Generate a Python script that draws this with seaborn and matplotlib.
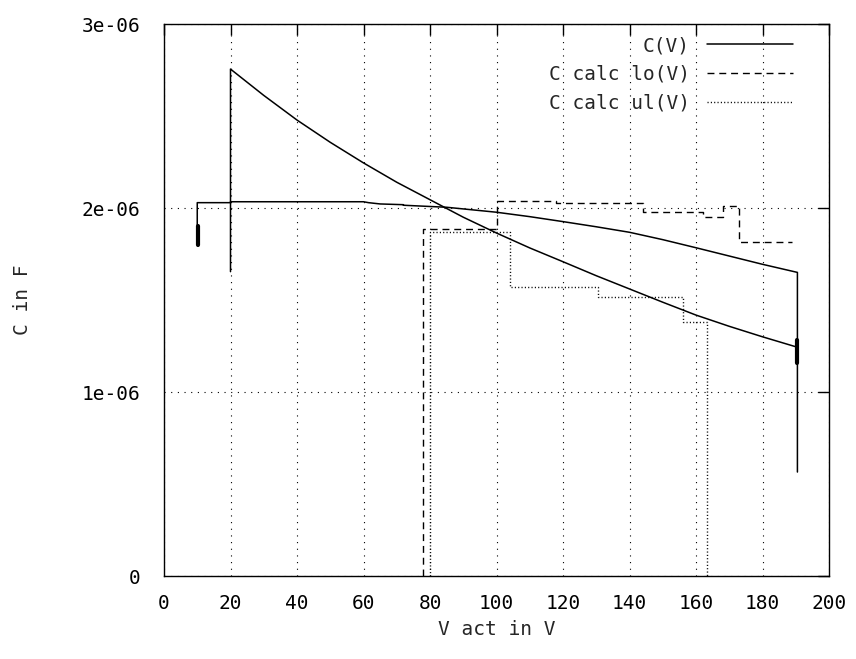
import numpy as np
import pandas as pd
import seaborn as sns
import matplotlib.pyplot as plt

# values, capacitance in uF (scaled to F below)
cv_x = [10.0, 10.0, 20.0, 20.0, 40, 60, 61.5, 65, 72, 72, 85, 100,
        110, 120, 130, 140, 150, 160, 170, 180, 190.5, 190.5]
cv_y = [1.80, 2.029, 2.029, 2.034, 2.034, 2.034, 2.029, 2.022, 2.018,
        2.015, 2.004, 1.977, 1.953, 1.926, 1.898, 1.868, 1.828, 1.784, 1.739,
        1.694, 1.650, 0.565]

c2_x = [20, 20, 30, 40, 50, 60, 70, 80, 90, 100, 110, 120, 130, 140, 150, 160,
        170, 180, 190]
c2_y = [1.654, 2.755, 2.612, 2.478, 2.357, 2.245, 2.140, 2.045, 1.950, 1.864,
        1.783, 1.708, 1.632, 1.560, 1.488, 1.418, 1.357, 1.300, 1.246]

# short dense stretches where many points pile up (drawn heavier)
bar_a_x = [10.1, 10.1]
bar_a_y = [1.80, 1.90]
bar_b_x = [190.3, 190.3]
bar_b_y = [1.28, 1.16]

lo_x = [78, 78, 100, 100, 118, 118, 144, 144, 162, 162, 168, 168, 173, 173, 189]
lo_y = [0, 1.886, 1.886, 2.040, 2.040, 2.025, 2.025, 1.980, 1.980, 1.949, 1.949,
        2.011, 2.011, 1.817, 1.817]

ul_x = [80, 80, 104, 104, 130.5, 130.5, 156, 156, 163.3, 163.3]
ul_y = [0, 1.868, 1.868, 1.572, 1.572, 1.518, 1.518, 1.382, 1.382, 0]

x_ticks = [0, 20, 40, 60, 80, 100, 120, 140, 160, 180, 200]
y_ticks = [0, 1e-06, 2e-06, 3e-06]
y_tick_labels = ['0', '1e-06', '2e-06', '3e-06']

sns.set_theme(style='white')
plt.rcParams['font.family'] = ['DejaVu Sans Mono']
plt.rcParams['font.size'] = 13

fig = plt.figure(figsize=(8.56, 6.59), dpi=100)
ax = fig.add_axes([164 / 856, 1 - 576 / 659, 665 / 856, 552 / 659])

def curve(xs, ys):
    return pd.DataFrame({'V': xs, 'C': np.array(ys) * 1e-6})

sns.lineplot(data=curve(cv_x, cv_y), x='V', y='C', sort=False, estimator=None,
             color='black', lw=1.1, label='C(V)', ax=ax)
sns.lineplot(data=curve(lo_x, lo_y), x='V', y='C', sort=False, estimator=None,
             color='black', lw=1.0, linestyle=(0, (5, 3.5)), label='C calc lo(V)', ax=ax)
sns.lineplot(data=curve(ul_x, ul_y), x='V', y='C', sort=False, estimator=None,
             color='black', lw=1.0, linestyle=(0, (0.8, 1.6)), label='C calc ul(V)', ax=ax)
sns.lineplot(data=curve(c2_x, c2_y), x='V', y='C', sort=False, estimator=None,
             color='black', lw=1.1, legend=False, ax=ax)
for bx, by in [(bar_a_x, bar_a_y), (bar_b_x, bar_b_y)]:
    sns.lineplot(data=curve(bx, by), x='V', y='C', sort=False, estimator=None,
                 color='black', lw=3, legend=False, ax=ax)

ax.set_xlim(0, 200)
ax.set_ylim(0, 3e-06)
ax.set_xticks(x_ticks)
ax.set_yticks(y_ticks, y_tick_labels)
ax.grid(True, color='black', lw=0.8, linestyle=(0, (1, 5)))
ax.tick_params(direction='in', length=8, width=1, top=True, right=True,
               colors='black', labelsize=14)
ax.tick_params(axis='x', pad=13)
ax.tick_params(axis='y', pad=17)
for s in ax.spines.values():
    s.set_color('black')
    s.set_linewidth(1)

ax.set_xlabel('V act in V', fontsize=14)
ax.set_ylabel('C in F', fontsize=14)
ax.xaxis.set_label_coords(0.5, (576 - 620) / 552)
ax.yaxis.set_label_coords((32 - 164) / 665, 0.5)

ax.legend(loc='upper right', bbox_to_anchor=((793 - 164) / 665, (576 - 36) / 552),
          frameon=False, markerfirst=False, borderpad=0, borderaxespad=0,
          handlelength=4.4, handletextpad=0.9, labelspacing=0.5, fontsize=14)

fig.savefig('out.png', dpi=100)
